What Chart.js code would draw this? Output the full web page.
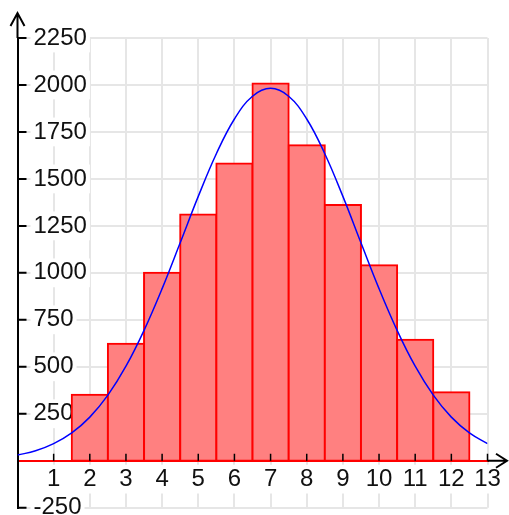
<!DOCTYPE html>
<html>
<head>
<meta charset="utf-8">
<script src="https://cdn.jsdelivr.net/npm/chart.js@4"></script>
<style>
  html, body { margin: 0; padding: 0; background: #fff; }
</style>
</head>
<body>
<canvas id="histChart" width="509" height="515"></canvas>
<script>
// histogram bins (centre of each bin) and their counts
const binCenters = [2, 3, 4, 5, 6, 7, 8, 9, 10, 11, 12];
const binCounts = [351, 623, 1000, 1310, 1582, 2008, 1679, 1361, 1041, 644, 365];

const curveX = [0, 0.5, 1, 1.5, 2, 2.5, 3, 3.5, 4, 4.5, 5, 5.5, 6, 6.5, 7,
  7.5, 8, 8.5, 9, 9.5, 10, 10.5, 11, 11.5, 12, 12.5, 13];
const curveY = [30, 53, 91, 148, 232, 349, 503, 694, 916, 1160, 1407, 1634, 1819, 1940, 1982,
  1940, 1819, 1634, 1407, 1160, 916, 694, 503, 349, 232, 148, 91];

// tick labels
const xTickValues = [1, 2, 3, 4, 5, 6, 7, 8, 9, 10, 11, 12, 13];
const yTickValues = [-250, 250, 500, 750, 1000, 1250, 1500, 1750, 2000, 2250];

const labelFont = { family: "'Liberation Sans', Arial, sans-serif", size: 24 };
const labelColor = "#111";
const gridColor = "#e6e6e6";

const noPadding = (scale) => {
  scale.paddingLeft = 0;
  scale.paddingRight = 0;
  scale.paddingTop = 0;
  scale.paddingBottom = 0;
};

// arrows at the axis ends and the little inside tick marks
const axisDecor = {
  id: "axisDecor",
  afterDatasetsDraw(chart) {
    const { ctx, chartArea, scales: { x, y } } = chart;
    const ax = chartArea.left;
    const ay = y.getPixelForValue(0);
    ctx.save();
    ctx.strokeStyle = "#000";
    ctx.lineWidth = 2;
    ctx.beginPath();
    ctx.moveTo(ax, chartArea.top);
    ctx.lineTo(ax, 13);
    ctx.moveTo(ax - 7, 26);
    ctx.lineTo(ax, 13);
    ctx.lineTo(ax + 7, 26);
    ctx.moveTo(chartArea.right, ay);
    ctx.lineTo(507, ay);
    ctx.moveTo(496, ay - 7);
    ctx.lineTo(507, ay);
    ctx.lineTo(496, ay + 7);
    ctx.stroke();

    ctx.beginPath();
    yTickValues.forEach((v) => {
      const p = y.getPixelForValue(v);
      ctx.moveTo(ax, p);
      ctx.lineTo(ax + 9, p);
    });
    ctx.stroke();

    ctx.lineWidth = 1.5;
    ctx.beginPath();
    xTickValues.forEach((v) => {
      const p = x.getPixelForValue(v);
      ctx.moveTo(p, ay - 7);
      ctx.lineTo(p, ay);
    });
    ctx.stroke();
    ctx.restore();
  },
};

new Chart(document.getElementById("histChart"), {
  type: "bar",
  data: {
    datasets: [
      {
        type: "line",
        data: curveX.map((v, i) => ({ x: v, y: curveY[i] })),
        borderColor: "#0000ff",
        borderWidth: 1.5,
        pointRadius: 0,
        fill: false,
        tension: 0.4,
        order: 0,
      },
      {
        type: "bar",
        data: binCenters.map((v, i) => ({ x: v, y: binCounts[i] })),
        backgroundColor: "#ff8080",
        borderColor: "#ff0000",
        borderWidth: 2,
        borderSkipped: false,
        inflateAmount: 1,
        barPercentage: 1,
        categoryPercentage: 1,
        order: 1,
      },
    ],
  },
  options: {
    responsive: false,
    animation: false,
    devicePixelRatio: 1,
    layout: { padding: { left: 17.5, right: 21.5, top: 38, bottom: 7.3 } },
    plugins: {
      legend: { display: false },
      tooltip: { enabled: false },
    },
    scales: {
      x: {
        type: "linear",
        min: 0,
        max: 13,
        offset: false,
        position: { y: 0 },
        afterBuildTicks: (s) => { s.ticks = xTickValues.map((v) => ({ value: v })); },
        afterFit: noPadding,
        grid: { color: gridColor, lineWidth: 2, drawTicks: false, offset: false },
        border: { color: "#ff0000", width: 2 },
        ticks: {
          font: labelFont,
          color: labelColor,
          padding: 4,
          maxRotation: 0,
          autoSkip: false,
          showLabelBackdrop: true,
          backdropColor: "#fff",
          backdropPadding: { x: 2, y: 0 },
          callback: (v) => String(v),
        },
      },
      y: {
        type: "linear",
        min: -250,
        max: 2250,
        position: "left",
        afterBuildTicks: (s) => { s.ticks = yTickValues.map((v) => ({ value: v })); },
        afterFit: (s) => { s.width = 0; noPadding(s); },
        grid: { color: gridColor, lineWidth: 2, drawTicks: false },
        border: { color: "#000", width: 2 },
        ticks: {
          mirror: true,
          font: labelFont,
          color: labelColor,
          padding: 16,
          autoSkip: false,
          showLabelBackdrop: true,
          backdropColor: "#fff",
          backdropPadding: { x: 3, y: 0 },
          callback: (v) => String(v),
        },
      },
    },
  },
  plugins: [axisDecor],
});
</script>
</body>
</html>
